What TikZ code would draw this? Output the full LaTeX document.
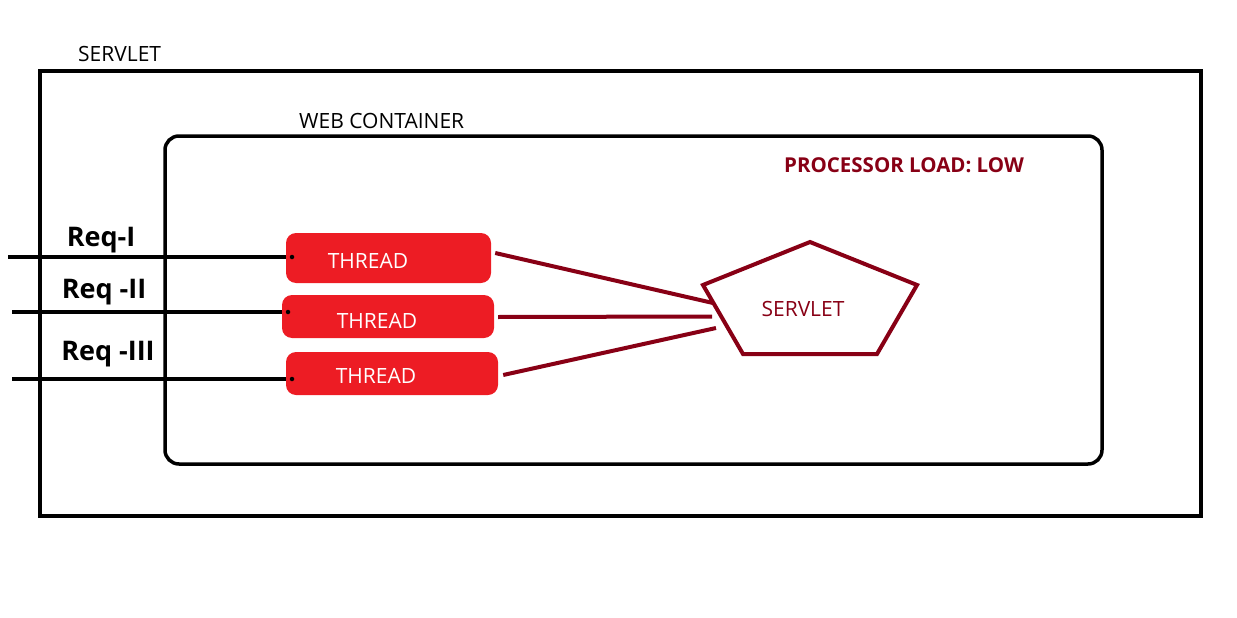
\documentclass[tikz,border=0pt]{standalone}
\usepackage{fontspec}
\setmainfont{Open Sans}
\usetikzlibrary{calc}
\definecolor{dred}{HTML}{880015}
\definecolor{tred}{HTML}{ED1C24}
\begin{document}
\begin{tikzpicture}[x=1pt,y=-1pt,
  outerbox/.style={draw=black,line width=3.5pt,inner sep=0pt,minimum width=1161pt,minimum height=445pt},
  webbox/.style={draw=black,line width=3.5pt,rounded corners=14pt,inner sep=0pt,minimum width=937pt,minimum height=328pt},
  threadbox/.style={fill=tred,rounded corners=10pt,inner sep=0pt},
  threadtxt/.style={text=white,font=\fontsize{21}{25}\selectfont,inner sep=0pt},
  lbl/.style={font=\fontsize{21}{25}\selectfont,inner sep=0pt},
  reqlbl/.style={font=\fontsize{27}{30}\selectfont\bfseries,inner sep=0pt},
  link/.style={draw=dred,line width=4pt},
  reqline/.style={draw=black,line width=3.5pt},
  dotmark/.style={fill=black,circle,inner sep=0pt,minimum size=4.5pt}]
\useasboundingbox (0,0) rectangle (1237,618);
% boxes
\node[outerbox] (outer) at (620.5,293.5) {};
\node[webbox] (web) at (633.5,300) {};
\node[lbl,anchor=west] (servletlbl) at (78,54) {SERVLET};
\node[lbl,anchor=west] (weblbl) at (299,121) {WEB CONTAINER};
\node[font=\fontsize{20.5}{24}\selectfont\bfseries,text=dred,inner sep=0pt] (load) at (904,165) {PROCESSOR LOAD: LOW};
% threads
\node[threadbox,minimum width=205pt,minimum height=50pt] (th1) at (388.5,258) {};
\node[threadbox,minimum width=212pt,minimum height=43pt] (th2) at (388,316.5) {};
\node[threadbox,minimum width=212pt,minimum height=43pt] (th3) at (392,373.5) {};
\node[threadtxt] (t1) at (368,260.5) {THREAD};
\node[threadtxt] (t2) at (377,320.5) {THREAD};
\node[threadtxt] (t3) at (376,375.5) {THREAD};
% servlet pentagon
\coordinate (p1) at (810,242);
\coordinate (p2) at (917,285);
\coordinate (p3) at (877,354);
\coordinate (p4) at (743,354);
\coordinate (p5) at (703,285);
\draw[draw=dred,line width=4pt,line join=miter] (p1) -- (p2) -- (p3) -- (p4) -- (p5) -- cycle;
\node[lbl,text=dred] (servlet) at (803,308.5) {SERVLET};
% links thread -> servlet
\coordinate (c1) at (713,303);
\coordinate (c2) at (712,316.5);
\coordinate (c3) at (716,328);
\draw[link] ($(th1.east)+(4,-5)$) -- (c1);
\draw[link] ($(th2.east)+(4,0.5)$) -- (c2);
\draw[link] ($(th3.east)+(5,1.5)$) -- (c3);
% request lines
\coordinate (r1) at (8,257);
\coordinate (r2) at (12,312);
\coordinate (r3) at (12,379);
\draw[reqline] (r1) -- (r1 -| th1.west);
\draw[reqline] (r2) -- (r2 -| th2.west);
\draw[reqline] (r3) -- (r3 -| th3.west);
\node[dotmark] (d1) at (292,257) {};
\node[dotmark] (d2) at (288,312) {};
\node[dotmark] (d3) at (292,379) {};
\node[reqlbl] (q1) at (101,240) {Req-I};
\node[reqlbl] (q2) at (104,292) {Req -II};
\node[reqlbl] (q3) at (108,354) {Req -III};
\end{tikzpicture}
\end{document}
